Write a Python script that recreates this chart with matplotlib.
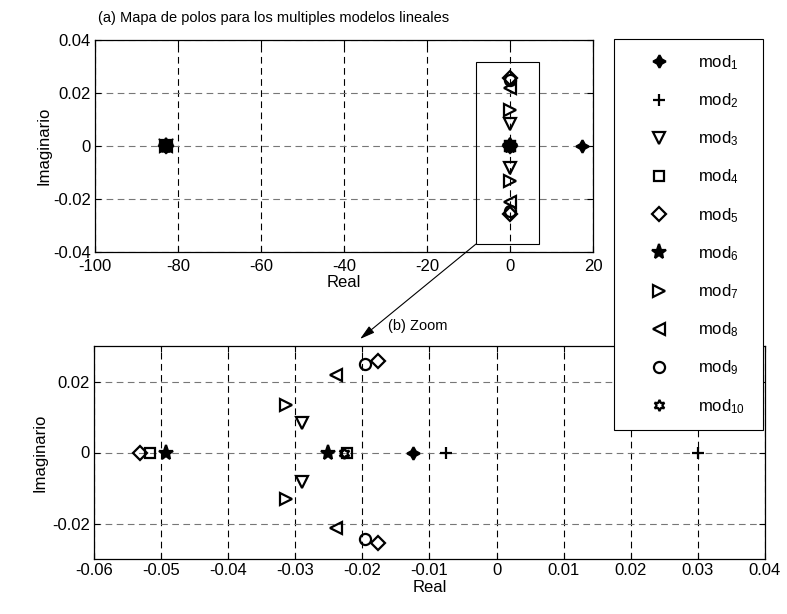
import matplotlib.pyplot as plt
import numpy as np

plt.rcParams['font.family'] = 'Liberation Sans'
plt.rcParams['mathtext.fontset'] = 'custom'
plt.rcParams['mathtext.rm'] = 'Liberation Sans'
plt.rcParams['mathtext.it'] = 'Liberation Sans'
plt.rcParams['axes.unicode_minus'] = False

# polos de cada modelo lineal (parte real, parte imaginaria)
modelos = ['mod$_{1}$', 'mod$_{2}$', 'mod$_{3}$', 'mod$_{4}$', 'mod$_{5}$',
           'mod$_{6}$', 'mod$_{7}$', 'mod$_{8}$', 'mod$_{9}$', 'mod$_{10}$']
polos_re = [
    [-83.0, 17.3, -0.0125],
    [-83.0, -0.0075, 0.030],
    [-83.0, -0.029, -0.029],
    [-83.0, -0.0516, -0.0223],
    [-83.0, -0.0531, -0.0177, -0.0177],
    [-83.0, -0.0492, -0.0252],
    [-83.0, -0.0314, -0.0314],
    [-83.0, -0.0240, -0.0240],
    [-83.0, -0.0196, -0.0196],
    [-83.0, -0.0228],
]
polos_im = [
    [0, 0, 0],
    [0, 0, 0],
    [0, 0.0084, -0.0084],
    [0, 0, 0],
    [0, 0, 0.0258, -0.0256],
    [0, 0, 0],
    [0, 0.0135, -0.0132],
    [0, 0.0217, -0.0212],
    [0, 0.0250, -0.0245],
    [0, 0],
]

marcadores = [(4, 1, 0), '+', 'v', 's', 'D', '*', '>', '<', 'o', (6, 1, 0)]
tamanos = [9, 9, 9, 7, 7, 11, 9, 9, 8, 8]
rellenos = ['k', 'none', 'none', 'none', 'none', 'k', 'none', 'none', 'none', 'none']

fig = plt.figure(figsize=(7.87, 6.14), dpi=100)
ax1 = fig.add_axes([95 / 787, 1 - 252 / 614, 498 / 787, 212 / 614])
ax2 = fig.add_axes([94 / 787, 1 - 559 / 614, 671 / 787, 213 / 614])


def dibujar(ax):
    for i in range(len(modelos)):
        ax.plot(polos_re[i], polos_im[i], linestyle='none', marker=marcadores[i],
                ms=tamanos[i], mew=1.6, mec='k', mfc=rellenos[i], color='k',
                label=modelos[i])
    ax.tick_params(direction='in', top=True, right=True, length=4, width=0.8,
                   labelsize=12, pad=3)
    ax.grid(True, axis='x', linestyle=(0, (6, 4)), color='k', lw=0.8)
    ax.grid(True, axis='y', linestyle=(0, (6, 4)), color='#777777', lw=0.8)
    for s in ax.spines.values():
        s.set_linewidth(0.9)
    ax.set_xlabel('Real', fontsize=12, labelpad=1)
    ax.set_ylabel('Imaginario', fontsize=12, labelpad=1)


dibujar(ax1)
ax1.set_xlim(-100, 20)
ax1.set_ylim(-0.04, 0.04)
ax1.set_xticks(np.arange(-100, 21, 20))
ax1.set_yticks([-0.04, -0.02, 0, 0.02, 0.04])
ax1.set_yticklabels(['-0.04', '-0.02', '0', '0.02', '0.04'])
ax1.tick_params(axis='x', pad=5)

dibujar(ax2)
ax2.set_xlim(-0.06, 0.04)
ax2.set_ylim(-0.03, 0.03)
ax2.set_xticks(np.round(np.arange(-0.06, 0.041, 0.01), 2))
ax2.set_xticklabels(['-0.06', '-0.05', '-0.04', '-0.03', '-0.02', '-0.01', '0',
                     '0.01', '0.02', '0.03', '0.04'])
ax2.set_yticks([-0.02, 0, 0.02])
ax2.set_yticklabels(['-0.02', '0', '0.02'])
ax2.yaxis.labelpad = 3

# recuadro de la zona ampliada
ax1.add_patch(plt.Rectangle((-8.2, -0.037), 15.2, 0.0687, fill=False, ec='k',
                            lw=0.8, zorder=5))
ax1.annotate('', xy=(360 / 787, 1 - 339 / 614), xycoords='figure fraction',
             xytext=(-8.2, -0.037), textcoords='data', annotation_clip=False,
             arrowprops=dict(arrowstyle='-|>,head_length=0.9,head_width=0.25',
                             color='k', lw=0.8, shrinkA=0, shrinkB=0))
fig.text(388 / 787, 1 - 326 / 614, '(b) Zoom', fontsize=10.5, va='center',
         ha='left')

fig.text(98 / 787, 1 - 18 / 614,
         '(a) Mapa de polos para los multiples modelos lineales',
         fontsize=10.5, va='center', ha='left')

h, l = ax1.get_legend_handles_labels()
leg = fig.legend(h, l, loc='upper left',
                 bbox_to_anchor=(614 / 787, 1 - 39 / 614, 149 / 787, 0.0),
                 mode='expand', fancybox=False, edgecolor='k', framealpha=1,
                 fontsize=12, labelspacing=1.17, handletextpad=0.5,
                 handlelength=3.7, borderpad=0.85, borderaxespad=0)
leg.get_frame().set_linewidth(0.8)

plt.savefig('out.png', dpi=100)
